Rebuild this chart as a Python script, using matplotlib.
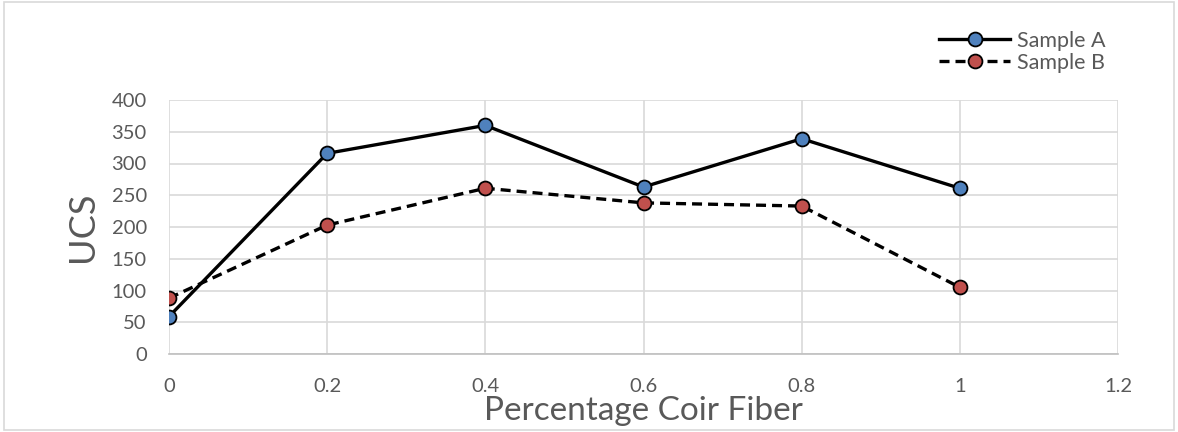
import matplotlib.pyplot as plt

# UCS values for each coir fiber percentage
fiber_pct = [0, 0.2, 0.4, 0.6, 0.8, 1.0]
sample_a = [59, 316, 360, 263, 339, 261]
sample_b = [88, 203, 261, 238, 233, 105]

plt.rcParams['font.family'] = ['Lato', 'DejaVu Sans']

fig = plt.figure(figsize=(11.78, 4.32), dpi=100)
ax = fig.add_axes([169 / 1178, 1 - 354 / 432, (1118 - 169) / 1178, (354 - 100) / 432])

ax.plot(fiber_pct, sample_a, color='black', lw=2.4, ls='-', marker='o', ms=10,
        mfc='#4f81bd', mec='black', mew=1.3, label='Sample A', zorder=3)
ax.plot(fiber_pct, sample_b, color='black', lw=2.4, ls=(0, (3, 1.8)), marker='o', ms=10,
        mfc='#c0504d', mec='black', mew=1.3, label='Sample B', zorder=3)

ax.set_xlim(0, 1.2)
ax.set_ylim(0, 400)
ax.set_xticks([0, 0.2, 0.4, 0.6, 0.8, 1.0, 1.2])
ax.set_xticklabels(['0', '0.2', '0.4', '0.6', '0.8', '1', '1.2'])
ax.set_yticks(range(0, 401, 50))

ax.grid(True, color='#d9d9d9', lw=1.2)
ax.set_axisbelow(True)
for side in ['top', 'right', 'left']:
    ax.spines[side].set_visible(False)
ax.spines['bottom'].set_color('#bfbfbf')
ax.spines['bottom'].set_linewidth(1.2)
ax.tick_params(length=0, labelsize=14.5, labelcolor='#595959')
ax.tick_params(axis='x', pad=17)
ax.tick_params(axis='y', pad=16)

ax.set_xlabel('Percentage Coir Fiber', fontsize=24, color='#595959', labelpad=1)
ax.set_ylabel('UCS', fontsize=26, color='#595959', labelpad=9)

leg = fig.legend(loc='upper right', bbox_to_anchor=(1114 / 1178, 1 - 22 / 432), frameon=False,
                 fontsize=15.5, handlelength=3.3, labelspacing=0.1, handletextpad=0.3,
                 borderaxespad=0)
for t in leg.get_texts():
    t.set_color('#595959')

# light frame around the whole chart
fig.patches.append(plt.Rectangle((0.003, 0.004), 0.994, 0.992, transform=fig.transFigure,
                                 fill=False, edgecolor='#d9d9d9', lw=1.2))

fig.savefig('out.png', dpi=100)
